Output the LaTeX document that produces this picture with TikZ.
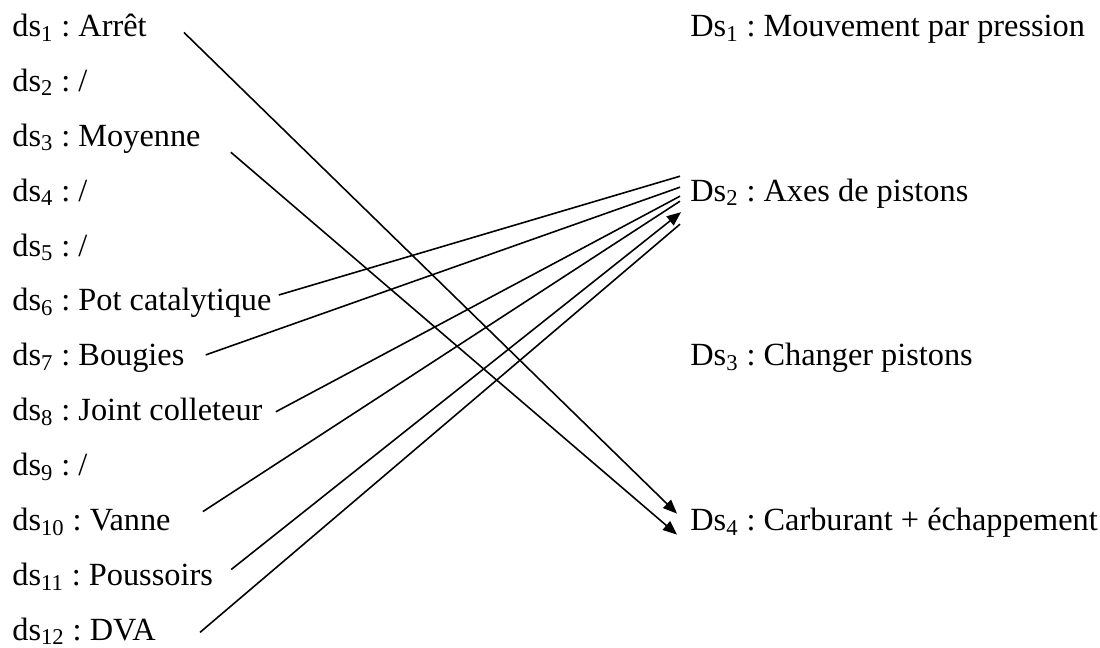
\documentclass[tikz,border=0pt]{standalone}
\usepackage{fontspec}
\setmainfont{Liberation Serif}
\usetikzlibrary{arrows.meta}
\frenchspacing

\begin{document}
\begin{tikzpicture}[
    x=0.02cm, y=-0.02cm,
    lbl/.style={anchor=base west, inner sep=0pt,
                font=\fontsize{18.4}{22}\selectfont},
    lnk/.style={line width=0.9pt},
    arr/.style={lnk, -{Triangle[length=8pt,width=6.5pt]}}
  ]
  \useasboundingbox (0,0) rectangle (1100,648);

  % Left column: ds
  \node[lbl] (ds1)  at (12,36.5)  {ds\textsubscript{1} : Arrêt};
  \node[lbl] (ds2)  at (12,91.4)  {ds\textsubscript{2} : /};
  \node[lbl] (ds3)  at (12,146.3) {ds\textsubscript{3} : Moyenne};
  \node[lbl] (ds4)  at (12,201.2) {ds\textsubscript{4} : /};
  \node[lbl] (ds5)  at (12,256.1) {ds\textsubscript{5} : /};
  \node[lbl] (ds6)  at (12,311)   {ds\textsubscript{6} : Pot catalytique};
  \node[lbl] (ds7)  at (12,365.9) {ds\textsubscript{7} : Bougies};
  \node[lbl] (ds8)  at (12,420.8) {ds\textsubscript{8} : Joint colleteur};
  \node[lbl] (ds9)  at (12,475.7) {ds\textsubscript{9} : /};
  \node[lbl] (ds10) at (12,530.6) {ds\textsubscript{10} : Vanne};
  \node[lbl] (ds11) at (12,585.5) {ds\textsubscript{11} : Poussoirs};
  \node[lbl] (ds12) at (12,640.4) {ds\textsubscript{12} : DVA};

  % Right column: Ds
  \node[lbl] (Ds1) at (690,36.5)  {Ds\textsubscript{1} : Mouvement par pression};
  \node[lbl] (Ds2) at (690,201.2) {Ds\textsubscript{2} : Axes de pistons};
  \node[lbl] (Ds3) at (690,365.9) {Ds\textsubscript{3} : Changer pistons};
  \node[lbl] (Ds4) at (690,530.6) {Ds\textsubscript{4} : Carburant + échappement};

  % Links to Ds4
  \draw[arr] ([shift={(37,-4)}]ds1.base east) -- ([shift={(-13,-17)}]Ds4.base west);
  \draw[arr] ([shift={(30,6)}]ds3.base east) -- ([shift={(-13,4)}]Ds4.base west);

  % Links to Ds2
  \draw[lnk] ([shift={(7,-16)}]ds6.base east) -- ([shift={(-10,-25)}]Ds2.base west);
  \draw[lnk] ([shift={(21,-11)}]ds7.base east) -- ([shift={(-10,-14)}]Ds2.base west);
  \draw[lnk] ([shift={(13,-9)}]ds8.base east) -- ([shift={(-10,-5)}]Ds2.base west);
  \draw[lnk] ([shift={(32,-19)}]ds10.base east) -- ([shift={(-10,0)}]Ds2.base west);
  \draw[arr] ([shift={(18,-16)}]ds11.base east) -- ([shift={(-9,11)}]Ds2.base west);
  \draw[lnk] ([shift={(44,-8)}]ds12.base east) -- ([shift={(-10,23)}]Ds2.base west);
\end{tikzpicture}
\end{document}
